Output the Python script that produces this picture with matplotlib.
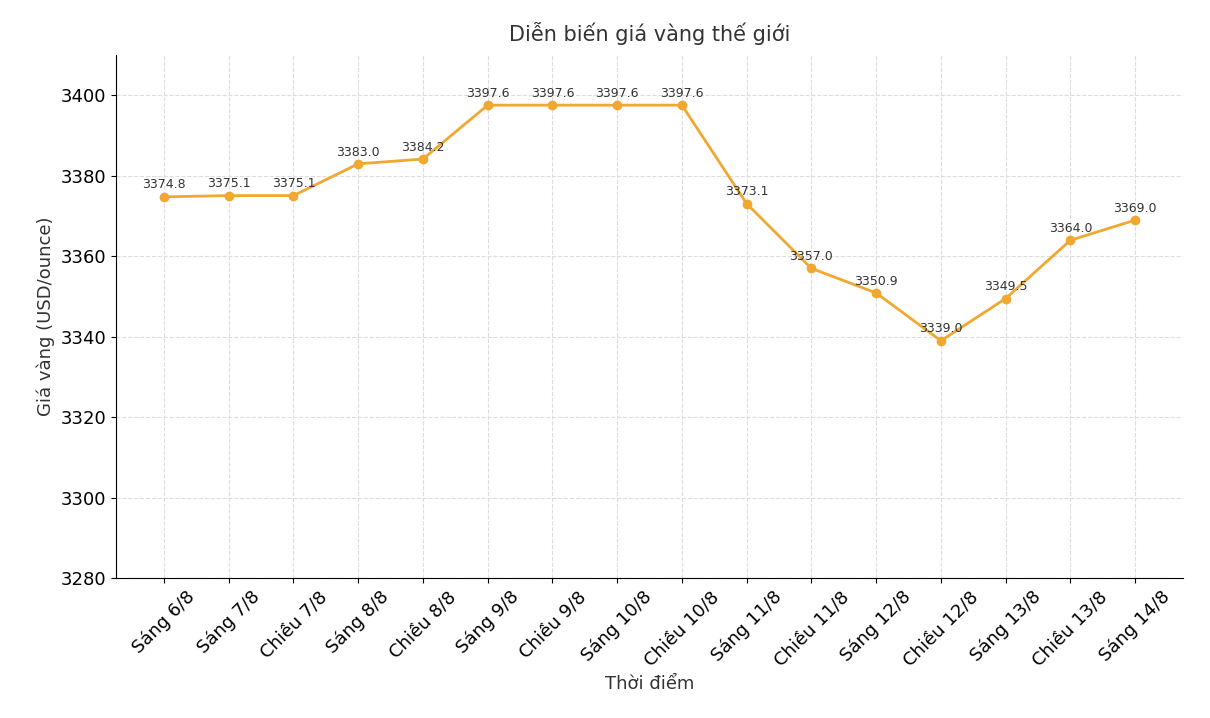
import matplotlib
matplotlib.use("Agg")
import matplotlib.pyplot as plt

labels = ["Sáng 6/8","Sáng 7/8","Chiều 7/8","Sáng 8/8","Chiều 8/8","Sáng 9/8","Chiều 9/8",
          "Sáng 10/8","Chiều 10/8","Sáng 11/8","Chiều 11/8","Sáng 12/8","Chiều 12/8",
          "Sáng 13/8","Chiều 13/8","Sáng 14/8"]
prices = [3374.8,3375.1,3375.1,3383.0,3384.2,3397.6,3397.6,3397.6,3397.6,3373.1,
          3357.0,3350.9,3339.0,3349.5,3364.0,3369.0]
yticks = [3280,3300,3320,3340,3360,3380,3400]

fig = plt.figure(figsize=(12.1,7.18), dpi=100)
ax = fig.add_axes([0.0959,0.195,0.8818,0.728])
x = list(range(len(labels)))
ax.plot(x, prices, color="#F0A830", marker="o", markersize=6, linewidth=2)
for xi, v in zip(x, prices):
    ax.annotate(f"{v:.1f}", (xi, v), textcoords="offset points", xytext=(0,6),
                ha="center", fontsize=9, color="#333333")
ax.set_xlim(-0.74, 15.74)
ax.set_ylim(3280, 3410)
ax.set_yticks(yticks)
ax.set_xticks(x)
ax.set_xticklabels(labels, rotation=45, ha="center", fontsize=13)
ax.tick_params(axis="y", labelsize=13)
ax.grid(True, linestyle="--", color="#dddddd", linewidth=0.8)
ax.spines["top"].set_visible(False)
ax.spines["right"].set_visible(False)
ax.set_title("Diễn biến giá vàng thế giới", fontsize=15, color="#333333", pad=10)
ax.set_xlabel("Thời điểm", fontsize=13, color="#333333")
ax.set_ylabel("Giá vàng (USD/ounce)", fontsize=13, color="#333333")
fig.savefig("out.png", dpi=100)
